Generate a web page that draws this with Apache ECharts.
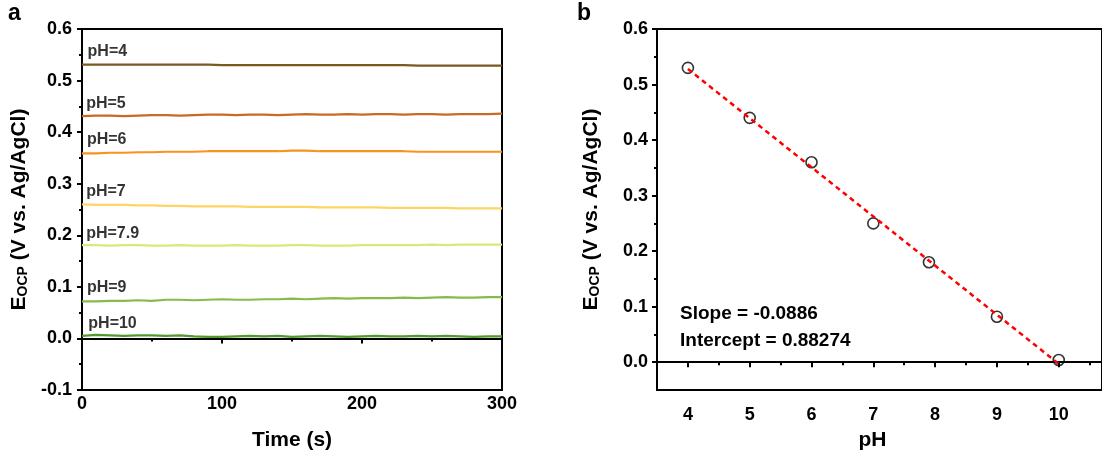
<!DOCTYPE html>
<html>
<head>
<meta charset="utf-8">
<script src="https://cdn.jsdelivr.net/npm/echarts@6/dist/echarts.min.js"></script>
<style>html,body{margin:0;padding:0;background:#fff}#c{width:1102px;height:456px}</style>
</head>
<body>
<div id="c"></div>
<script>
// ---------- Data ----------
const timeS = [0,10,20,30,40,50,60,70,80,90,100,110,120,130,140,150,160,170,180,190,200,210,220,230,240,250,260,270,280,290,300];
const seriesNames = ['pH=4','pH=5','pH=6','pH=7','pH=7.9','pH=9','pH=10'];
const ocpPH4  = [0.531,0.531,0.531,0.531,0.531,0.531,0.531,0.531,0.531,0.531,0.530,0.530,0.530,0.530,0.530,0.530,0.530,0.530,0.530,0.530,0.530,0.530,0.530,0.530,0.529,0.529,0.529,0.529,0.529,0.529,0.529];
const ocpPH5  = [0.431,0.432,0.432,0.431,0.432,0.433,0.433,0.432,0.433,0.434,0.434,0.433,0.434,0.434,0.433,0.434,0.435,0.434,0.434,0.435,0.434,0.435,0.435,0.434,0.435,0.435,0.434,0.435,0.435,0.435,0.436];
const ocpPH6  = [0.359,0.359,0.360,0.360,0.361,0.361,0.362,0.362,0.362,0.363,0.363,0.363,0.363,0.363,0.363,0.364,0.364,0.363,0.363,0.363,0.363,0.363,0.363,0.363,0.362,0.362,0.362,0.362,0.362,0.362,0.362];
const ocpPH7  = [0.260,0.259,0.259,0.259,0.258,0.258,0.257,0.257,0.256,0.256,0.256,0.256,0.255,0.255,0.255,0.255,0.255,0.254,0.254,0.254,0.254,0.254,0.253,0.253,0.253,0.253,0.253,0.252,0.252,0.252,0.252];
const ocpPH79 = [0.181,0.181,0.180,0.181,0.181,0.180,0.180,0.181,0.180,0.180,0.180,0.181,0.180,0.180,0.180,0.181,0.181,0.180,0.180,0.180,0.181,0.181,0.181,0.181,0.181,0.182,0.181,0.182,0.182,0.182,0.182];
const ocpPH9  = [0.072,0.072,0.073,0.073,0.074,0.073,0.075,0.075,0.074,0.075,0.076,0.075,0.075,0.076,0.076,0.077,0.076,0.077,0.078,0.077,0.078,0.078,0.078,0.079,0.078,0.079,0.080,0.079,0.079,0.080,0.080];
const ocpPH10 = [0.005,0.007,0.006,0.005,0.006,0.006,0.005,0.006,0.004,0.003,0.003,0.004,0.005,0.004,0.005,0.003,0.004,0.005,0.004,0.003,0.004,0.005,0.004,0.004,0.005,0.004,0.005,0.004,0.003,0.004,0.004];
const ocpSeries = [ocpPH4, ocpPH5, ocpPH6, ocpPH7, ocpPH79, ocpPH9, ocpPH10];
const labelTime = [4,3,3.5,3,3,3.5,4.5];
const labelY = [0.556,0.456,0.386,0.285,0.204,0.098,0.028];

const pHValues = [4,5,6,7,7.9,9,10];
const ocpMean  = [0.530,0.440,0.360,0.250,0.180,0.082,0.004];
const fitLine  = [[4,0.528],[10,-0.003]];
const slopeText = 'Slope = -0.0886';
const interceptText = 'Intercept = 0.88274';

const leftYTicks = [-0.1,0,0.1,0.2,0.3,0.4,0.5,0.6];
const rightYTicks = [0,0.1,0.2,0.3,0.4,0.5,0.6];
const rightYMinor = [0.05,0.15,0.25,0.35,0.45,0.55];
const rightXTicks = [4,5,6,7,8,9,10];
const rightXMinor = [3.5,4.5,5.5,6.5,7.5,8.5,9.5,10.5];

// ---------- Style ----------
const colors = ['#7a5a22','#c76a24','#f7931e','#fdd563','#dbe77b','#86bb4a','#4e9a2c'];
const FONT = 'Liberation Sans, Arial, sans-serif';
const tickFont = {fontFamily: FONT, fontWeight: 'bold', fontSize: 18, color: '#000'};
const axisLineStyle = {show: true, lineStyle: {color: '#000', width: 2}};
const yNameRich = {
  e: {fontFamily: FONT, fontWeight: 'bold', fontSize: 21, color: '#000'},
  s: {fontFamily: FONT, fontWeight: 'bold', fontSize: 14, color: '#000', verticalAlign: 'bottom', padding: [8,0,0,0]}
};
const yName = '{e|E}{s|OCP}{e| (V vs. Ag/AgCl)}';

const chart = echarts.init(document.getElementById('c'), null, {renderer: 'canvas'});

const leftSeries = ocpSeries.map((arr, i) => ({
  type: 'line', xAxisIndex: 0, yAxisIndex: 0,
  data: timeS.map((t, k) => [t, arr[k]]),
  showSymbol: false, symbol: 'none', smooth: false,
  lineStyle: {color: colors[i], width: 2.2},
  z: 3
}));

const labelSeries = {
  type: 'scatter', xAxisIndex: 0, yAxisIndex: 0,
  symbolSize: 0, silent: true,
  data: seriesNames.map((n, i) => ({value: [labelTime[i], labelY[i]], name: n})),
  label: {show: true, position: 'right', distance: 0, formatter: p => p.name,
          fontFamily: FONT, fontWeight: 'bold', fontSize: 16, color: '#000'},
  z: 5
};

const option = {
  animation: false,
  backgroundColor: '#fff',
  grid: [
    {left: 82, right: 600, top: 29, bottom: 63, show: true, borderColor: '#000', borderWidth: 2, backgroundColor: 'transparent'},
    {left: 657, right: -1, top: 29, bottom: 63, show: true, borderColor: '#000', borderWidth: 2, backgroundColor: 'transparent'}
  ],
  xAxis: [
    {type: 'value', gridIndex: 0, min: 0, max: 300, interval: 100,
     axisLine: axisLineStyle, axisTick: {show: true, length: 5, lineStyle: {width: 2, color: '#000'}},
     minorTick: {show: true, splitNumber: 2, length: 3, lineStyle: {width: 2, color: '#000'}},
     splitLine: {show: false}, axisLabel: Object.assign({margin: 5}, tickFont),
     name: 'Time (s)', nameLocation: 'middle', nameGap: 40,
     nameTextStyle: {fontFamily: FONT, fontWeight: 'bold', fontSize: 21, color: '#000'}},
    {type: 'value', gridIndex: 1, min: 3.5, max: 10.7,
     axisLine: axisLineStyle,
     axisTick: {show: true, length: 5, lineStyle: {width: 2, color: '#000'}, customValues: rightXTicks},
     splitLine: {show: false},
     axisLabel: Object.assign({margin: 16, customValues: rightXTicks}, tickFont),
     name: 'pH', nameLocation: 'middle', nameGap: 40,
     nameTextStyle: {fontFamily: FONT, fontWeight: 'bold', fontSize: 21, color: '#000', padding: [0,14,0,0]}},
    {type: 'value', gridIndex: 1, min: 3.5, max: 10.7, position: 'bottom',
     axisLine: {show: false},
     axisTick: {show: true, length: 3, lineStyle: {width: 2, color: '#000'}, customValues: rightXMinor},
     splitLine: {show: false}, axisLabel: {show: false}}
  ],
  yAxis: [
    {type: 'value', gridIndex: 0, min: -0.1, max: 0.6, interval: 0.1,
     axisLine: axisLineStyle, axisTick: {show: true, length: 5, lineStyle: {width: 2, color: '#000'}},
     minorTick: {show: true, splitNumber: 2, length: 3, lineStyle: {width: 2, color: '#000'}},
     splitLine: {show: false},
     axisLabel: Object.assign({margin: 10, formatter: v => v.toFixed(1)}, tickFont),
     name: yName, nameLocation: 'middle', nameGap: 52, nameRotate: 90,
     nameTextStyle: {rich: yNameRich}},
    {type: 'value', gridIndex: 1, min: -0.05, max: 0.6,
     axisLine: axisLineStyle,
     axisTick: {show: true, length: 5, lineStyle: {width: 2, color: '#000'}, customValues: rightYTicks},
     splitLine: {show: false},
     axisLabel: Object.assign({margin: 9, customValues: rightYTicks, formatter: v => v.toFixed(1)}, tickFont),
     name: yName, nameLocation: 'middle', nameGap: 55, nameRotate: 90,
     nameTextStyle: {rich: yNameRich}},
    {type: 'value', gridIndex: 1, min: -0.05, max: 0.6, position: 'left',
     axisLine: {show: false},
     axisTick: {show: true, length: 3, lineStyle: {width: 2, color: '#000'}, customValues: rightYMinor},
     splitLine: {show: false}, axisLabel: {show: false}}
  ],
  graphic: [
    {type: 'text', left: 8, top: 2, style: {text: 'a', font: 'bold 23px ' + FONT, fill: '#000'}},
    {type: 'text', left: 577, top: 2, style: {text: 'b', font: 'bold 23px ' + FONT, fill: '#000'}},
    {type: 'text', left: 680, top: 304, style: {text: slopeText, font: 'bold 19px ' + FONT, fill: '#000'}},
    {type: 'text', left: 680, top: 331, style: {text: interceptText, font: 'bold 19px ' + FONT, fill: '#000'}}
  ],
  series: leftSeries.concat([labelSeries,
    {type: 'scatter', xAxisIndex: 1, yAxisIndex: 1,
     data: pHValues.map((p, i) => [p, ocpMean[i]]),
     symbol: 'circle', symbolSize: 11,
     itemStyle: {color: 'rgba(255,255,255,0)', borderColor: '#000', borderWidth: 1.6},
     z: 3},
    {type: 'line', xAxisIndex: 1, yAxisIndex: 1, data: fitLine,
     showSymbol: false, symbol: 'none',
     lineStyle: {color: '#ff0000', width: 2.5, type: [5,4]}, z: 4}
  ])
};
chart.setOption(option);
</script>
</body>
</html>
